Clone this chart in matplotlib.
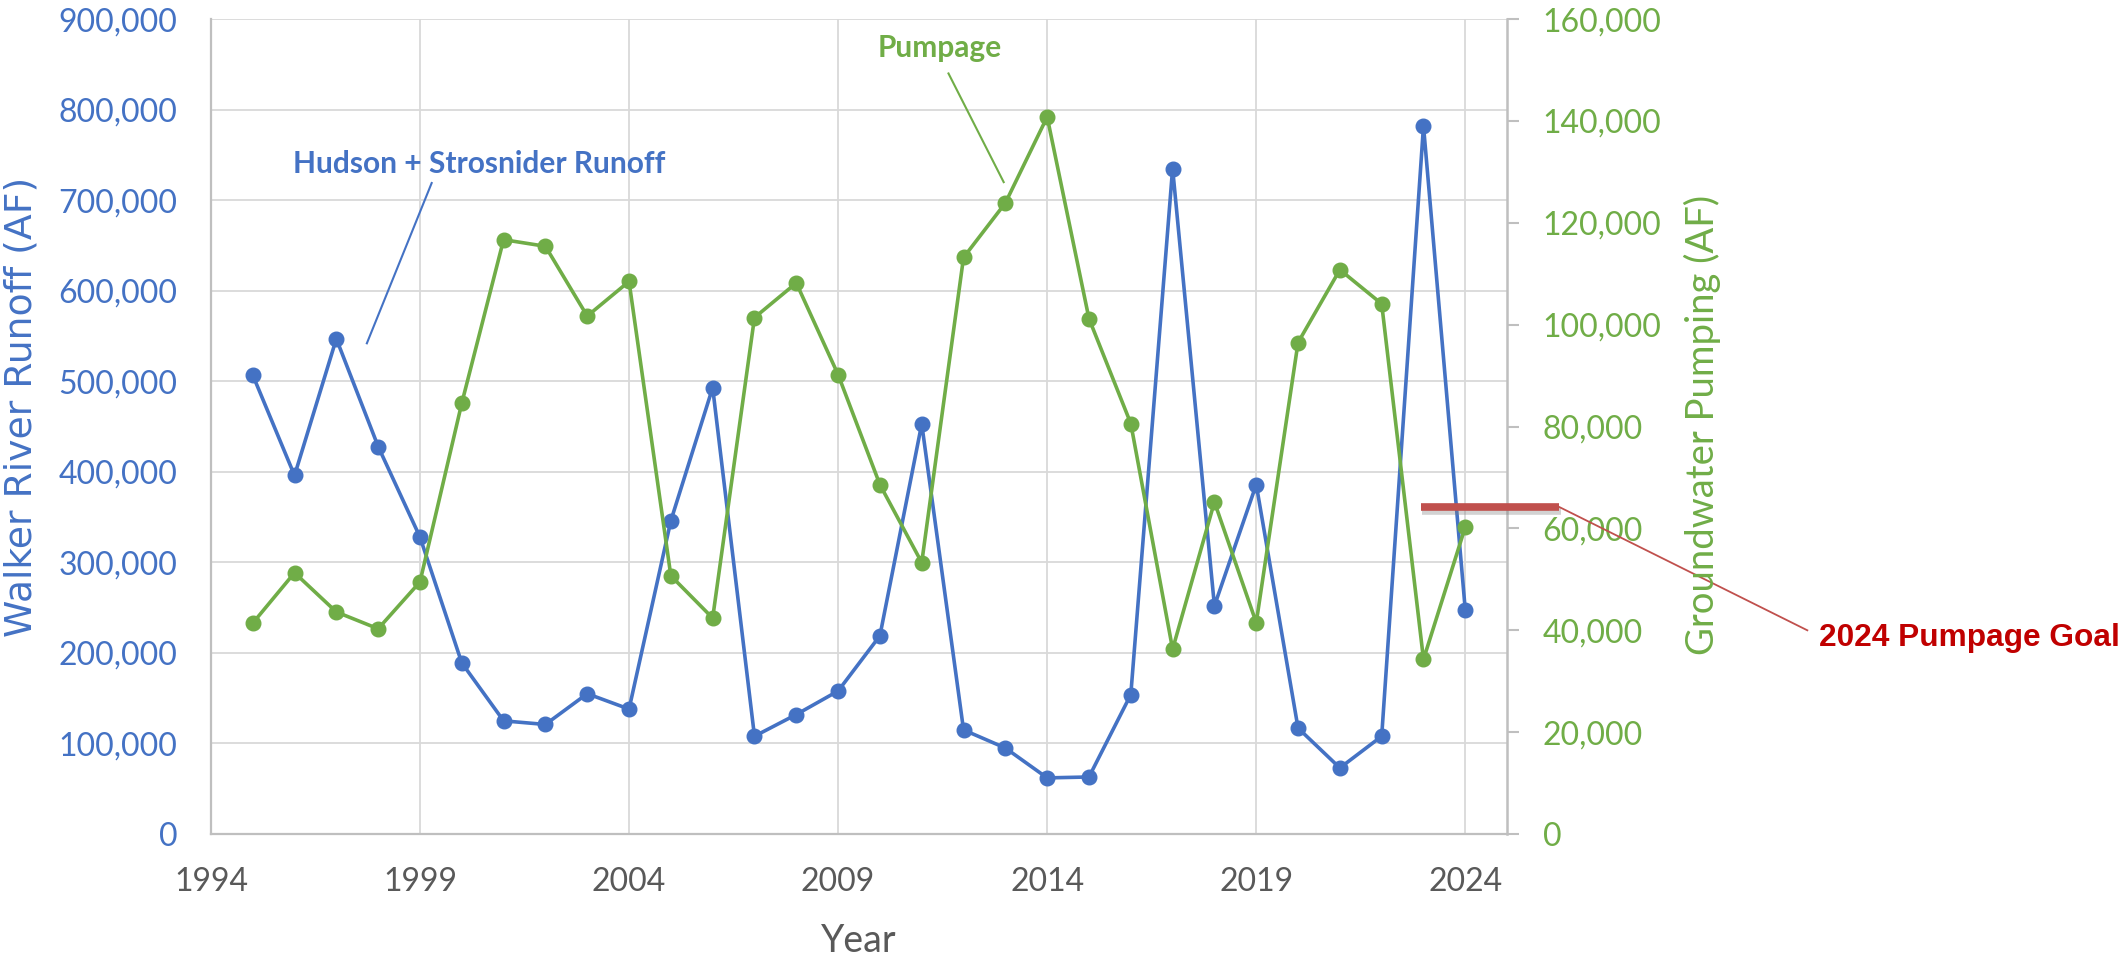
import matplotlib
matplotlib.use('Agg')
import matplotlib.pyplot as plt
import matplotlib.patheffects as pe
from matplotlib.ticker import FuncFormatter

plt.rcParams['font.family'] = ['Lato', 'DejaVu Sans']

# values
years = list(range(1995, 2025))
runoff_af = [507000, 396000, 547000, 428000, 328000, 189000, 125000, 121000, 155000, 138000,
             346000, 493000, 108000, 132000, 158000, 219000, 453000, 115000, 95000, 62000,
             63000, 154000, 735000, 252000, 386000, 117000, 73000, 108000, 782000, 247000]
pumping_af = [41400, 51300, 43600, 40300, 49500, 84600, 116700, 115400, 101700, 108500,
              50700, 42400, 101400, 108200, 90200, 68600, 53300, 113200, 123900, 140800,
              101200, 80600, 36300, 65200, 41500, 96500, 110800, 104100, 34300, 60300]
goal_af = 64200
year_ticks = [1994, 1999, 2004, 2009, 2014, 2019, 2024]
runoff_ticks = list(range(0, 900001, 100000))
pumping_ticks = list(range(0, 160001, 20000))

BLUE = '#4472C4'
GREEN = '#70AD47'
GRAY_TXT = '#595959'
AXIS_GRAY = '#BFBFBF'
GRID = '#D9D9D9'

fmt = FuncFormatter(lambda v, p: f'{v:,.0f}')

fig = plt.figure(figsize=(21.26, 9.57), dpi=100)
ax = fig.add_axes([0.0992, 0.1285, 0.6097, 0.8515])
ax2 = ax.twinx()

ax.plot(years, runoff_af, color=BLUE, lw=2.6, marker='o', ms=10.5, zorder=3)
ax2.plot(years, pumping_af, color=GREEN, lw=2.6, marker='o', ms=10.5, zorder=3)

ax.set_xlim(1994, 2025)
ax.set_xticks(year_ticks)
ax.set_ylim(0, 900000)
ax.set_yticks(runoff_ticks)
ax.yaxis.set_major_formatter(fmt)
ax2.set_ylim(0, 160000)
ax2.set_yticks(pumping_ticks)
ax2.yaxis.set_major_formatter(fmt)

ax.grid(True, color=GRID, lw=1.3)
ax.set_axisbelow(True)

for s in ['top', 'right']:
    ax.spines[s].set_visible(False)
for s in ['left', 'bottom']:
    ax.spines[s].set_color(AXIS_GRAY)
    ax.spines[s].set_linewidth(1.6)
for s in ['top', 'left', 'bottom']:
    ax2.spines[s].set_visible(False)
ax2.spines['right'].set_color(AXIS_GRAY)
ax2.spines['right'].set_linewidth(1.8)

ax.tick_params(axis='y', length=0, pad=24, labelsize=23, labelcolor=BLUE)
ax.tick_params(axis='x', length=0, pad=24, labelsize=23, labelcolor=GRAY_TXT)
ax2.tick_params(axis='y', length=8.6, width=1.5, color=AXIS_GRAY, pad=17,
                labelsize=23, labelcolor=GREEN)

# axis titles
fig.text(0.0099, 0.5747, 'Walker River Runoff (AF)', rotation=90, ha='center', va='center',
         fontsize=27.2, color=BLUE, family='DejaVu Sans')
fig.text(0.8006, 0.5559, 'Groundwater Pumping (AF)', rotation=90, ha='center', va='center',
         fontsize=27.5, color=GREEN)
fig.text(0.404, 0.0052, 'Year', ha='center', va='baseline', fontsize=27, color=GRAY_TXT)

# series call-outs
ax.text(2000.41, 730000, 'Hudson + Strosnider Runoff', ha='center', va='baseline',
        fontsize=21.5, fontweight='bold', color=BLUE)
ax.plot([1999.28, 1997.73], [719000, 542000], color=BLUE, lw=1.5)
ax.text(2011.43, 858000, 'Pumpage', ha='center', va='baseline',
        fontsize=21.5, fontweight='bold', color=GREEN)
ax.plot([2011.64, 2012.96], [840000, 720000], color=GREEN, lw=1.5)

# pumpage goal marker
ax2.plot([2022.93, 2026.25], [goal_af, goal_af], color='#C0504D', lw=5.5,
         solid_capstyle='butt', clip_on=False, zorder=5,
         path_effects=[pe.SimpleLineShadow(offset=(1, -3), shadow_color='gray', alpha=0.35),
                       pe.Normal()])
ax2.plot([2026.25, 2032.18], [goal_af, 40000], color='#C0504D', lw=1.3, clip_on=False, zorder=5)
ax2.text(2032.47, 36900, '2024 Pumpage Goal', ha='left', va='baseline', fontsize=22.8,
         fontweight='bold', color='#C00000', family='Liberation Sans', clip_on=False)

fig.savefig('out.png', dpi=100, facecolor='white')
